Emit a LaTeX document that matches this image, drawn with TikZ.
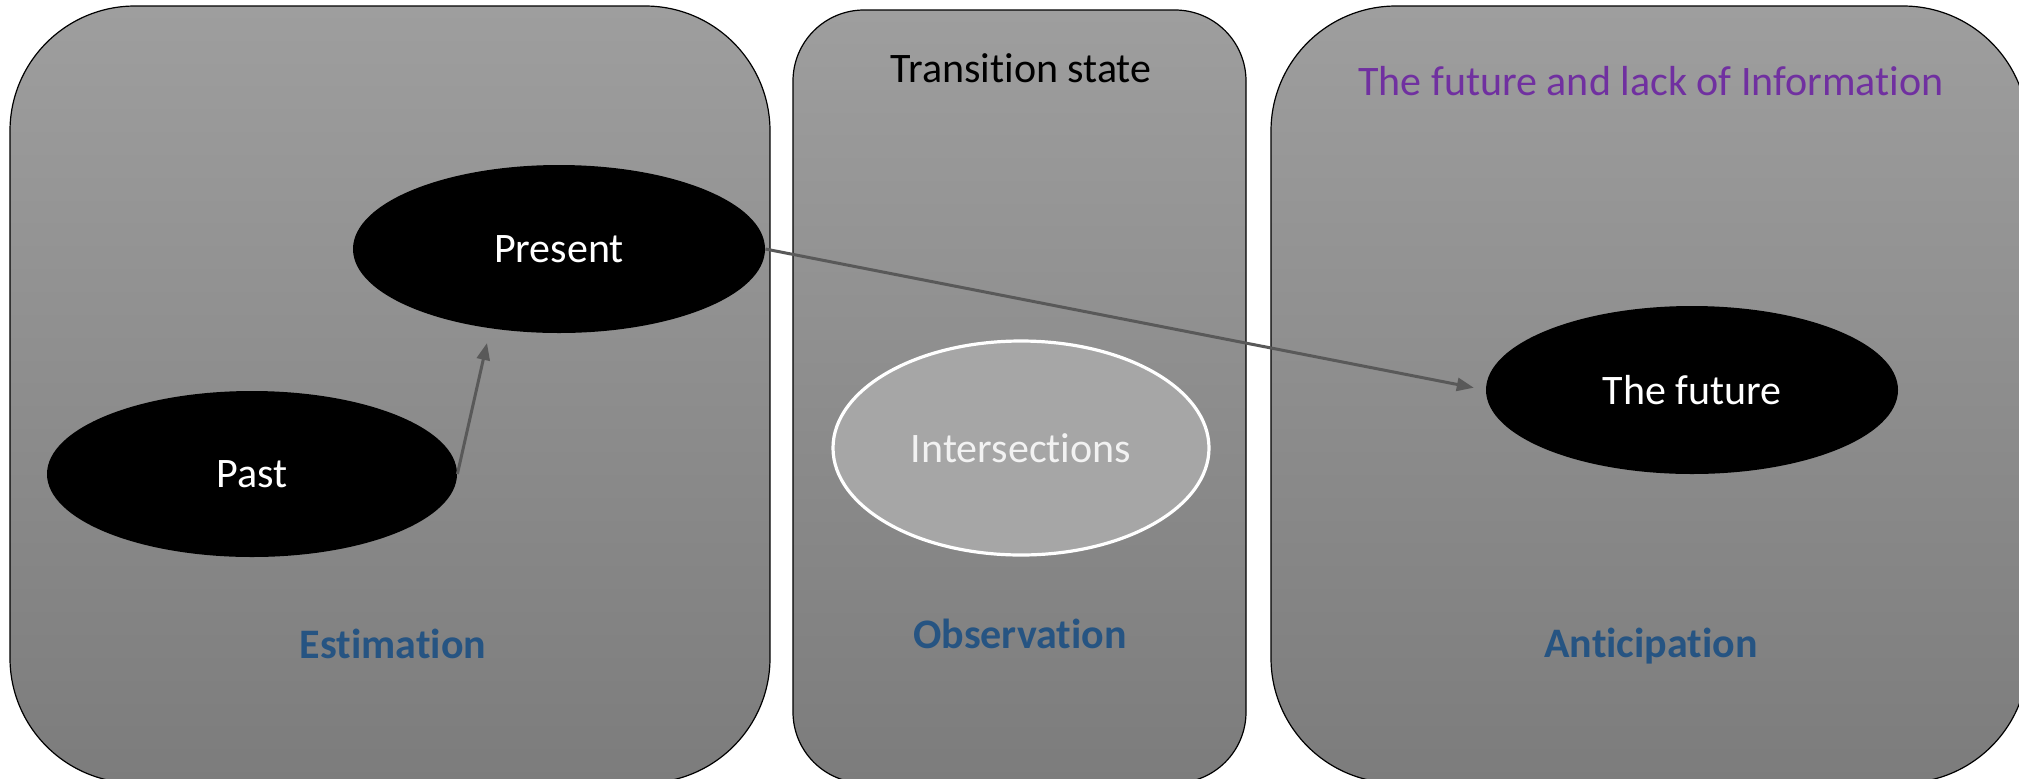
\documentclass[tikz,border=0pt]{standalone}
\usepackage{fontspec}
\setmainfont{Carlito}[Ligatures={NoCommon,NoContextual,NoRare},Contextuals=NoAlternate]
\usetikzlibrary{shapes.geometric,arrows.meta}
\definecolor{boxtop}{RGB}{158,158,158}
\definecolor{boxbot}{RGB}{124,124,124}
\definecolor{lblue}{RGB}{38,84,130}
\definecolor{lpurple}{RGB}{112,48,160}
\definecolor{arrowgray}{RGB}{89,89,89}
\definecolor{intfill}{RGB}{166,166,166}
\definecolor{inttext}{RGB}{242,242,242}
\tikzset{
  panel/.style={draw=black, line width=0.6pt, top color=boxtop, bottom color=boxbot, inner sep=0pt},
  blackell/.style={ellipse, fill=black, inner sep=0pt, text=white, font=\fontsize{21}{24}\selectfont},
  plain/.style={font=\fontsize{21}{24}\selectfont, inner sep=0pt},
  bluelbl/.style={font=\fontsize{21}{24}\selectfont\bfseries, text=lblue, inner sep=0pt},
  conn/.style={draw=arrowgray, line width=1.5pt, -{Triangle[length=8.5pt,width=6.5pt]}}
}
\begin{document}
\begin{tikzpicture}[x=0.5pt,y=-0.5pt]
\clip (0,0) rectangle (2019,778);
\fill[white] (0,0) rectangle (2019,778);
% panels
\node[panel, rounded corners=62.5pt, minimum width=380pt, minimum height=388.5pt] (pleft) at (390,394.5) {};
\node[panel, rounded corners=35.5pt, minimum width=226.5pt, minimum height=386.5pt] (pmid) at (1019.5,396.5) {};
\node[panel, rounded corners=62.5pt, minimum width=378.5pt, minimum height=388.5pt] (pright) at (1649.5,394.5) {};
% titles
\node[plain, text=black] (ttrans) at (1021,68) {Transition state};
\node[plain, text=lpurple] (tfut) at (1651,81) {The future and lack of Information};
% ellipses
\node[blackell, minimum width=205pt, minimum height=83pt] (past) at (252,474) {Past};
\node[blackell, minimum width=206pt, minimum height=84pt] (present) at (559,249) {Present};
\node[blackell, minimum width=206pt, minimum height=84pt] (future) at (1692,390) {The future};
\node[ellipse, draw=white, line width=1.6pt, fill=intfill, inner sep=0pt, minimum width=188pt, minimum height=107pt, text=inttext, font=\fontsize{21}{24}\selectfont] (inter) at (1021,448) {Intersections};
% bottom labels
\node[bluelbl] (lest) at (393,644) {Estimation};
\node[bluelbl] (lobs) at (1020,634) {Observation};
\node[bluelbl] (lant) at (1651,646) {Anticipation};
% connectors
\coordinate (pastend) at (487,343);
\draw[conn] (past.east) -- (pastend);
\draw[conn, shorten >=6pt] (present.east) -- (future.west);
\end{tikzpicture}
\end{document}
